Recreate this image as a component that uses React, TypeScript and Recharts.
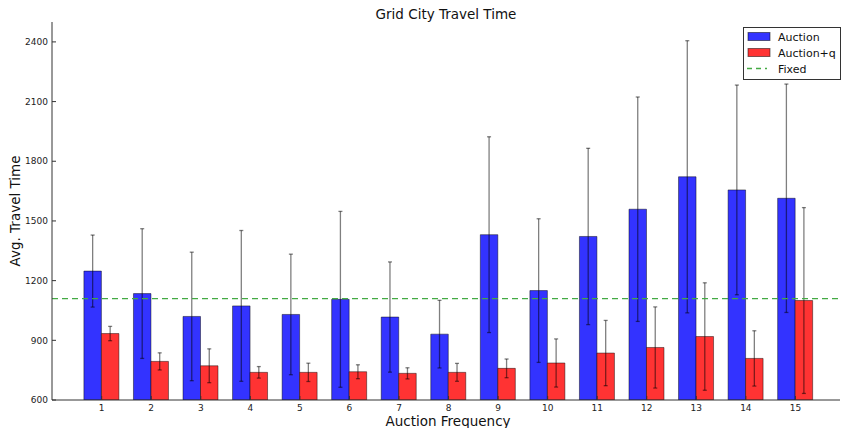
import React from 'react';
import { BarChart, Bar, XAxis, YAxis, ErrorBar, ReferenceLine, Legend } from 'recharts';

const frequencies = ['1', '2', '3', '4', '5', '6', '7', '8', '9', '10', '11', '12', '13', '14', '15'];
const auction = [1248, 1135, 1020, 1073, 1030, 1106, 1017, 931, 1431, 1150, 1422, 1559, 1722, 1656, 1614];
const auctionErr = [181, 326, 323, 379, 303, 442, 277, 170, 492, 361, 443, 564, 684, 527, 574];
const auctionQ = [934, 794, 772, 739, 739, 742, 734, 739, 759, 786, 836, 864, 919, 809, 1100];
const auctionQErr = [36, 43, 85, 29, 46, 35, 28, 45, 47, 121, 164, 204, 270, 139, 467];
const fixedTime = 1110;
const yTicks = [600, 900, 1200, 1500, 1800, 2100, 2400];

const data = frequencies.map((f, i) => ({
  freq: f,
  auction: auction[i],
  auctionErr: auctionErr[i],
  auctionQ: auctionQ[i],
  auctionQErr: auctionQErr[i],
}));

const FONT = '"DejaVu Sans", sans-serif';
const AXIS = '#333';
const PAD = { left: 24.9, right: 19.8 };

const renderLegend = () => (
  <svg width={98} height={53} style={{ display: 'block' }}>
    <rect x={0.5} y={0.5} width={97} height={52} fill="#fff" stroke="#333" strokeWidth={1} />
    <rect x={5} y={5.5} width={22} height={8} fill="#3333ff" stroke="rgba(0,0,0,0.5)" />
    <text x={35} y={13.5} fontSize={11} fontFamily={FONT} fill="#111">Auction</text>
    <rect x={5} y={21.5} width={22} height={8} fill="#ff3333" stroke="rgba(0,0,0,0.5)" />
    <text x={35} y={29.5} fontSize={11} fontFamily={FONT} fill="#111">Auction+q</text>
    <line x1={4} y1={41.5} x2={24} y2={41.5} stroke="#44aa44" strokeWidth={1.3} strokeDasharray="5 4" />
    <text x={35} y={45.5} fontSize={11} fontFamily={FONT} fill="#111">Fixed</text>
  </svg>
);

export default function App() {
  return (
    <div style={{ position: 'absolute', left: 0, top: 0, width: 841, height: 428, background: '#fff' }}>
      <BarChart
        width={841}
        height={428}
        data={data}
        margin={{ top: 22, right: 1, left: 0, bottom: 0 }}
        barGap={0}
        barSize={17.5}
      >
        <XAxis
          dataKey="freq"
          height={28}
          padding={PAD}
          tickSize={-4}
          tickMargin={9}
          stroke={AXIS}
          tick={{ fontSize: 9, fill: '#222', fontFamily: FONT }}
          interval={0}
        />
        <XAxis
          xAxisId="top"
          orientation="top"
          dataKey="freq"
          height={0}
          padding={PAD}
          tickSize={-4}
          stroke={AXIS}
          tick={false}
          interval={0}
        />
        <YAxis
          width={52}
          domain={[600, 2500]}
          ticks={yTicks}
          tickSize={-4}
          tickMargin={8}
          stroke={AXIS}
          tick={{ fontSize: 9, fill: '#222', fontFamily: FONT }}
          allowDataOverflow
        />
        <YAxis
          yAxisId="right"
          orientation="right"
          width={0}
          domain={[600, 2500]}
          ticks={yTicks}
          tickSize={-4}
          stroke={AXIS}
          tick={false}
          allowDataOverflow
        />
        <Legend
          layout="horizontal"
          verticalAlign="middle"
          align="center"
          content={renderLegend}
          wrapperStyle={{ position: 'absolute', left: 743, top: 27, width: 98, height: 53 }}
        />
        <Bar dataKey="auction" name="Auction" fill="#3333ff" stroke="rgba(0,0,0,0.45)" strokeWidth={1} isAnimationActive={false}>
          <ErrorBar dataKey="auctionErr" width={2} stroke="#000" strokeOpacity={0.5} strokeWidth={1.3} direction="y" />
        </Bar>
        <Bar dataKey="auctionQ" name="Auction+q" fill="#ff3333" stroke="rgba(0,0,0,0.45)" strokeWidth={1} isAnimationActive={false}>
          <ErrorBar dataKey="auctionQErr" width={2} stroke="#000" strokeOpacity={0.5} strokeWidth={1.3} direction="y" />
        </Bar>
        <ReferenceLine y={fixedTime} stroke="#44aa44" strokeWidth={1.3} strokeDasharray="6 4" />
      </BarChart>
      <svg
        width={841}
        height={428}
        style={{ position: 'absolute', left: 0, top: 0, pointerEvents: 'none' }}
      >
        <text x={446} y={19} textAnchor="middle" fontSize={13.5} fontFamily={FONT} fill="#111">
          Grid City Travel Time
        </text>
        <text x={448} y={426} textAnchor="middle" fontSize={13.5} fontFamily={FONT} fill="#111">
          Auction Frequency
        </text>
        <text
          x={0}
          y={0}
          transform="translate(19.5,211) rotate(-90)"
          textAnchor="middle"
          fontSize={13.5}
          fontFamily={FONT}
          fill="#111"
        >
          Avg. Travel Time
        </text>
      </svg>
    </div>
  );
}
